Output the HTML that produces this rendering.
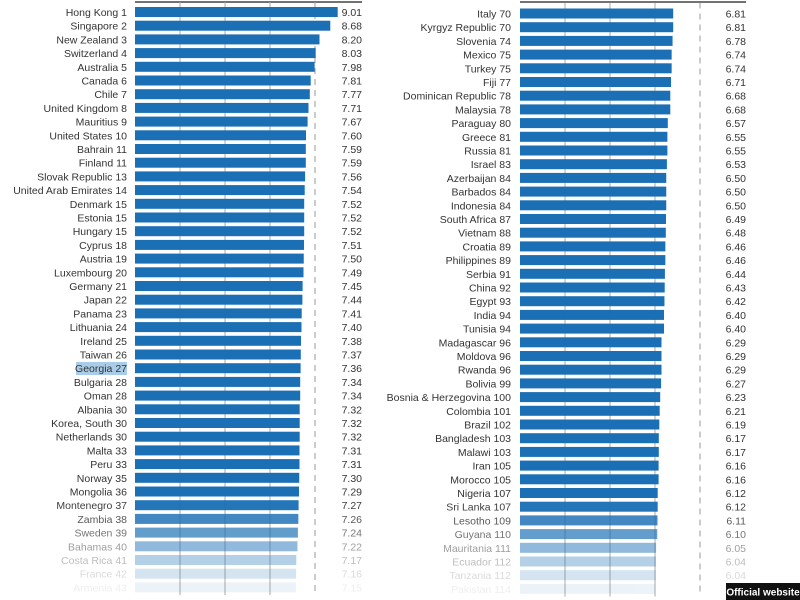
<!DOCTYPE html><html><head><style>body{margin:0;background:#fff}svg{display:block}text{font-family:"Liberation Sans",sans-serif;font-size:10.5px;fill:#333}.l{text-anchor:end}.v{text-anchor:end}rect.b{fill:#1a6fb5}</style></head><body>
<svg width="800" height="600" viewBox="0 0 800 600">
<g transform="translate(135,0)">
<line x1="0" y1="2" x2="227" y2="2" stroke="#444" stroke-width="1.5"/>
<line x1="45" y1="2" x2="45" y2="595" stroke="#aaa"/><line x1="90" y1="2" x2="90" y2="595" stroke="#aaa"/><line x1="135" y1="2" x2="135" y2="595" stroke="#aaa"/><line x1="180" y1="2" x2="180" y2="595" stroke="#999" stroke-dasharray="6,5"/>
<rect x="-59" y="362" width="51" height="13" fill="#a9cde8"/>
<g transform="translate(0,12)"><text class="l" x="-8" y="4">Hong Kong  1</text><rect class="b" y="-5" width="202.7" height="10"/><text class="v" x="227" y="4">9.01</text></g>
<g transform="translate(0,25.7)"><text class="l" x="-8" y="4">Singapore  2</text><rect class="b" y="-5" width="195.3" height="10"/><text class="v" x="227" y="4">8.68</text></g>
<g transform="translate(0,39.4)"><text class="l" x="-8" y="4">New Zealand  3</text><rect class="b" y="-5" width="184.5" height="10"/><text class="v" x="227" y="4">8.20</text></g>
<g transform="translate(0,53.1)"><text class="l" x="-8" y="4">Switzerland  4</text><rect class="b" y="-5" width="180.7" height="10"/><text class="v" x="227" y="4">8.03</text></g>
<g transform="translate(0,66.8)"><text class="l" x="-8" y="4">Australia  5</text><rect class="b" y="-5" width="179.6" height="10"/><text class="v" x="227" y="4">7.98</text></g>
<g transform="translate(0,80.5)"><text class="l" x="-8" y="4">Canada  6</text><rect class="b" y="-5" width="175.7" height="10"/><text class="v" x="227" y="4">7.81</text></g>
<g transform="translate(0,94.2)"><text class="l" x="-8" y="4">Chile  7</text><rect class="b" y="-5" width="174.8" height="10"/><text class="v" x="227" y="4">7.77</text></g>
<g transform="translate(0,107.9)"><text class="l" x="-8" y="4">United Kingdom  8</text><rect class="b" y="-5" width="173.5" height="10"/><text class="v" x="227" y="4">7.71</text></g>
<g transform="translate(0,121.6)"><text class="l" x="-8" y="4">Mauritius  9</text><rect class="b" y="-5" width="172.6" height="10"/><text class="v" x="227" y="4">7.67</text></g>
<g transform="translate(0,135.3)"><text class="l" x="-8" y="4">United States  10</text><rect class="b" y="-5" width="171" height="10"/><text class="v" x="227" y="4">7.60</text></g>
<g transform="translate(0,149)"><text class="l" x="-8" y="4">Bahrain  11</text><rect class="b" y="-5" width="170.8" height="10"/><text class="v" x="227" y="4">7.59</text></g>
<g transform="translate(0,162.7)"><text class="l" x="-8" y="4">Finland  11</text><rect class="b" y="-5" width="170.8" height="10"/><text class="v" x="227" y="4">7.59</text></g>
<g transform="translate(0,176.4)"><text class="l" x="-8" y="4">Slovak Republic  13</text><rect class="b" y="-5" width="170.1" height="10"/><text class="v" x="227" y="4">7.56</text></g>
<g transform="translate(0,190.1)"><text class="l" x="-8" y="4">United Arab Emirates  14</text><rect class="b" y="-5" width="169.7" height="10"/><text class="v" x="227" y="4">7.54</text></g>
<g transform="translate(0,203.8)"><text class="l" x="-8" y="4">Denmark  15</text><rect class="b" y="-5" width="169.2" height="10"/><text class="v" x="227" y="4">7.52</text></g>
<g transform="translate(0,217.5)"><text class="l" x="-8" y="4">Estonia  15</text><rect class="b" y="-5" width="169.2" height="10"/><text class="v" x="227" y="4">7.52</text></g>
<g transform="translate(0,231.2)"><text class="l" x="-8" y="4">Hungary  15</text><rect class="b" y="-5" width="169.2" height="10"/><text class="v" x="227" y="4">7.52</text></g>
<g transform="translate(0,244.9)"><text class="l" x="-8" y="4">Cyprus  18</text><rect class="b" y="-5" width="169" height="10"/><text class="v" x="227" y="4">7.51</text></g>
<g transform="translate(0,258.6)"><text class="l" x="-8" y="4">Austria  19</text><rect class="b" y="-5" width="168.75" height="10"/><text class="v" x="227" y="4">7.50</text></g>
<g transform="translate(0,272.3)"><text class="l" x="-8" y="4">Luxembourg  20</text><rect class="b" y="-5" width="168.5" height="10"/><text class="v" x="227" y="4">7.49</text></g>
<g transform="translate(0,286)"><text class="l" x="-8" y="4">Germany  21</text><rect class="b" y="-5" width="167.6" height="10"/><text class="v" x="227" y="4">7.45</text></g>
<g transform="translate(0,299.7)"><text class="l" x="-8" y="4">Japan  22</text><rect class="b" y="-5" width="167.4" height="10"/><text class="v" x="227" y="4">7.44</text></g>
<g transform="translate(0,313.4)"><text class="l" x="-8" y="4">Panama  23</text><rect class="b" y="-5" width="166.7" height="10"/><text class="v" x="227" y="4">7.41</text></g>
<g transform="translate(0,327.1)"><text class="l" x="-8" y="4">Lithuania  24</text><rect class="b" y="-5" width="166.5" height="10"/><text class="v" x="227" y="4">7.40</text></g>
<g transform="translate(0,340.8)"><text class="l" x="-8" y="4">Ireland  25</text><rect class="b" y="-5" width="166" height="10"/><text class="v" x="227" y="4">7.38</text></g>
<g transform="translate(0,354.5)"><text class="l" x="-8" y="4">Taiwan  26</text><rect class="b" y="-5" width="165.8" height="10"/><text class="v" x="227" y="4">7.37</text></g>
<g transform="translate(0,368.2)"><text class="l" x="-8" y="4">Georgia  27</text><rect class="b" y="-5" width="165.6" height="10"/><text class="v" x="227" y="4">7.36</text></g>
<g transform="translate(0,381.9)"><text class="l" x="-8" y="4">Bulgaria  28</text><rect class="b" y="-5" width="165.2" height="10"/><text class="v" x="227" y="4">7.34</text></g>
<g transform="translate(0,395.6)"><text class="l" x="-8" y="4">Oman  28</text><rect class="b" y="-5" width="165.2" height="10"/><text class="v" x="227" y="4">7.34</text></g>
<g transform="translate(0,409.3)"><text class="l" x="-8" y="4">Albania  30</text><rect class="b" y="-5" width="164.7" height="10"/><text class="v" x="227" y="4">7.32</text></g>
<g transform="translate(0,423)"><text class="l" x="-8" y="4">Korea, South  30</text><rect class="b" y="-5" width="164.7" height="10"/><text class="v" x="227" y="4">7.32</text></g>
<g transform="translate(0,436.7)"><text class="l" x="-8" y="4">Netherlands  30</text><rect class="b" y="-5" width="164.7" height="10"/><text class="v" x="227" y="4">7.32</text></g>
<g transform="translate(0,450.4)"><text class="l" x="-8" y="4">Malta  33</text><rect class="b" y="-5" width="164.5" height="10"/><text class="v" x="227" y="4">7.31</text></g>
<g transform="translate(0,464.1)"><text class="l" x="-8" y="4">Peru  33</text><rect class="b" y="-5" width="164.5" height="10"/><text class="v" x="227" y="4">7.31</text></g>
<g transform="translate(0,477.8)"><text class="l" x="-8" y="4">Norway  35</text><rect class="b" y="-5" width="164.25" height="10"/><text class="v" x="227" y="4">7.30</text></g>
<g transform="translate(0,491.5)"><text class="l" x="-8" y="4">Mongolia  36</text><rect class="b" y="-5" width="164" height="10"/><text class="v" x="227" y="4">7.29</text></g>
<g transform="translate(0,505.2)" opacity="0.95"><text class="l" x="-8" y="4">Montenegro  37</text><rect class="b" y="-5" width="163.6" height="10"/><text class="v" x="227" y="4">7.27</text></g>
<g transform="translate(0,518.9)" opacity="0.82"><text class="l" x="-8" y="4">Zambia  38</text><rect class="b" y="-5" width="163.35" height="10"/><text class="v" x="227" y="4">7.26</text></g>
<g transform="translate(0,532.6)" opacity="0.68"><text class="l" x="-8" y="4">Sweden  39</text><rect class="b" y="-5" width="162.9" height="10"/><text class="v" x="227" y="4">7.24</text></g>
<g transform="translate(0,546.3)" opacity="0.48"><text class="l" x="-8" y="4">Bahamas  40</text><rect class="b" y="-5" width="162.45" height="10"/><text class="v" x="227" y="4">7.22</text></g>
<g transform="translate(0,560)" opacity="0.32"><text class="l" x="-8" y="4">Costa Rica  41</text><rect class="b" y="-5" width="161.3" height="10"/><text class="v" x="227" y="4">7.17</text></g>
<g transform="translate(0,573.7)" opacity="0.18"><text class="l" x="-8" y="4">France  42</text><rect class="b" y="-5" width="161.1" height="10"/><text class="v" x="227" y="4">7.16</text></g>
<g transform="translate(0,587.4)" opacity="0.08"><text class="l" x="-8" y="4">Armenia  43</text><rect class="b" y="-5" width="160.9" height="10"/><text class="v" x="227" y="4">7.15</text></g>
</g>
<g transform="translate(520,1.5)">
<line x1="0" y1="0.5" x2="226" y2="0.5" stroke="#444" stroke-width="1.5"/>
<line x1="45" y1="1" x2="45" y2="595" stroke="#aaa"/><line x1="90" y1="1" x2="90" y2="595" stroke="#aaa"/><line x1="135" y1="1" x2="135" y2="595" stroke="#aaa"/><line x1="180" y1="1" x2="180" y2="595" stroke="#999" stroke-dasharray="6,5"/>
<g transform="translate(0,12)"><text class="l" x="-9" y="4">Italy  70</text><rect class="b" y="-5" width="153.2" height="10"/><text class="v" x="226" y="4">6.81</text></g>
<g transform="translate(0,25.7)"><text class="l" x="-9" y="4">Kyrgyz Republic  70</text><rect class="b" y="-5" width="153.2" height="10"/><text class="v" x="226" y="4">6.81</text></g>
<g transform="translate(0,39.4)"><text class="l" x="-9" y="4">Slovenia  74</text><rect class="b" y="-5" width="152.55" height="10"/><text class="v" x="226" y="4">6.78</text></g>
<g transform="translate(0,53.1)"><text class="l" x="-9" y="4">Mexico  75</text><rect class="b" y="-5" width="151.65" height="10"/><text class="v" x="226" y="4">6.74</text></g>
<g transform="translate(0,66.8)"><text class="l" x="-9" y="4">Turkey  75</text><rect class="b" y="-5" width="151.65" height="10"/><text class="v" x="226" y="4">6.74</text></g>
<g transform="translate(0,80.5)"><text class="l" x="-9" y="4">Fiji  77</text><rect class="b" y="-5" width="151" height="10"/><text class="v" x="226" y="4">6.71</text></g>
<g transform="translate(0,94.2)"><text class="l" x="-9" y="4">Dominican Republic  78</text><rect class="b" y="-5" width="150.3" height="10"/><text class="v" x="226" y="4">6.68</text></g>
<g transform="translate(0,107.9)"><text class="l" x="-9" y="4">Malaysia  78</text><rect class="b" y="-5" width="150.3" height="10"/><text class="v" x="226" y="4">6.68</text></g>
<g transform="translate(0,121.6)"><text class="l" x="-9" y="4">Paraguay  80</text><rect class="b" y="-5" width="147.8" height="10"/><text class="v" x="226" y="4">6.57</text></g>
<g transform="translate(0,135.3)"><text class="l" x="-9" y="4">Greece  81</text><rect class="b" y="-5" width="147.4" height="10"/><text class="v" x="226" y="4">6.55</text></g>
<g transform="translate(0,149)"><text class="l" x="-9" y="4">Russia  81</text><rect class="b" y="-5" width="147.4" height="10"/><text class="v" x="226" y="4">6.55</text></g>
<g transform="translate(0,162.7)"><text class="l" x="-9" y="4">Israel  83</text><rect class="b" y="-5" width="146.9" height="10"/><text class="v" x="226" y="4">6.53</text></g>
<g transform="translate(0,176.4)"><text class="l" x="-9" y="4">Azerbaijan  84</text><rect class="b" y="-5" width="146.25" height="10"/><text class="v" x="226" y="4">6.50</text></g>
<g transform="translate(0,190.1)"><text class="l" x="-9" y="4">Barbados  84</text><rect class="b" y="-5" width="146.25" height="10"/><text class="v" x="226" y="4">6.50</text></g>
<g transform="translate(0,203.8)"><text class="l" x="-9" y="4">Indonesia  84</text><rect class="b" y="-5" width="146.25" height="10"/><text class="v" x="226" y="4">6.50</text></g>
<g transform="translate(0,217.5)"><text class="l" x="-9" y="4">South Africa  87</text><rect class="b" y="-5" width="146" height="10"/><text class="v" x="226" y="4">6.49</text></g>
<g transform="translate(0,231.2)"><text class="l" x="-9" y="4">Vietnam  88</text><rect class="b" y="-5" width="145.8" height="10"/><text class="v" x="226" y="4">6.48</text></g>
<g transform="translate(0,244.9)"><text class="l" x="-9" y="4">Croatia  89</text><rect class="b" y="-5" width="145.35" height="10"/><text class="v" x="226" y="4">6.46</text></g>
<g transform="translate(0,258.6)"><text class="l" x="-9" y="4">Philippines  89</text><rect class="b" y="-5" width="145.35" height="10"/><text class="v" x="226" y="4">6.46</text></g>
<g transform="translate(0,272.3)"><text class="l" x="-9" y="4">Serbia  91</text><rect class="b" y="-5" width="144.9" height="10"/><text class="v" x="226" y="4">6.44</text></g>
<g transform="translate(0,286)"><text class="l" x="-9" y="4">China  92</text><rect class="b" y="-5" width="144.7" height="10"/><text class="v" x="226" y="4">6.43</text></g>
<g transform="translate(0,299.7)"><text class="l" x="-9" y="4">Egypt  93</text><rect class="b" y="-5" width="144.45" height="10"/><text class="v" x="226" y="4">6.42</text></g>
<g transform="translate(0,313.4)"><text class="l" x="-9" y="4">India  94</text><rect class="b" y="-5" width="144" height="10"/><text class="v" x="226" y="4">6.40</text></g>
<g transform="translate(0,327.1)"><text class="l" x="-9" y="4">Tunisia  94</text><rect class="b" y="-5" width="144" height="10"/><text class="v" x="226" y="4">6.40</text></g>
<g transform="translate(0,340.8)"><text class="l" x="-9" y="4">Madagascar  96</text><rect class="b" y="-5" width="141.5" height="10"/><text class="v" x="226" y="4">6.29</text></g>
<g transform="translate(0,354.5)"><text class="l" x="-9" y="4">Moldova  96</text><rect class="b" y="-5" width="141.5" height="10"/><text class="v" x="226" y="4">6.29</text></g>
<g transform="translate(0,368.2)"><text class="l" x="-9" y="4">Rwanda  96</text><rect class="b" y="-5" width="141.5" height="10"/><text class="v" x="226" y="4">6.29</text></g>
<g transform="translate(0,381.9)"><text class="l" x="-9" y="4">Bolivia  99</text><rect class="b" y="-5" width="141.1" height="10"/><text class="v" x="226" y="4">6.27</text></g>
<g transform="translate(0,395.6)"><text class="l" x="-9" y="4">Bosnia &amp; Herzegovina  100</text><rect class="b" y="-5" width="140.2" height="10"/><text class="v" x="226" y="4">6.23</text></g>
<g transform="translate(0,409.3)"><text class="l" x="-9" y="4">Colombia  101</text><rect class="b" y="-5" width="139.7" height="10"/><text class="v" x="226" y="4">6.21</text></g>
<g transform="translate(0,423)"><text class="l" x="-9" y="4">Brazil  102</text><rect class="b" y="-5" width="139.3" height="10"/><text class="v" x="226" y="4">6.19</text></g>
<g transform="translate(0,436.7)"><text class="l" x="-9" y="4">Bangladesh  103</text><rect class="b" y="-5" width="138.8" height="10"/><text class="v" x="226" y="4">6.17</text></g>
<g transform="translate(0,450.4)"><text class="l" x="-9" y="4">Malawi  103</text><rect class="b" y="-5" width="138.8" height="10"/><text class="v" x="226" y="4">6.17</text></g>
<g transform="translate(0,464.1)"><text class="l" x="-9" y="4">Iran  105</text><rect class="b" y="-5" width="138.6" height="10"/><text class="v" x="226" y="4">6.16</text></g>
<g transform="translate(0,477.8)"><text class="l" x="-9" y="4">Morocco  105</text><rect class="b" y="-5" width="138.6" height="10"/><text class="v" x="226" y="4">6.16</text></g>
<g transform="translate(0,491.5)"><text class="l" x="-9" y="4">Nigeria  107</text><rect class="b" y="-5" width="137.7" height="10"/><text class="v" x="226" y="4">6.12</text></g>
<g transform="translate(0,505.2)" opacity="0.95"><text class="l" x="-9" y="4">Sri Lanka  107</text><rect class="b" y="-5" width="137.7" height="10"/><text class="v" x="226" y="4">6.12</text></g>
<g transform="translate(0,518.9)" opacity="0.82"><text class="l" x="-9" y="4">Lesotho  109</text><rect class="b" y="-5" width="137.5" height="10"/><text class="v" x="226" y="4">6.11</text></g>
<g transform="translate(0,532.6)" opacity="0.68"><text class="l" x="-9" y="4">Guyana  110</text><rect class="b" y="-5" width="137.25" height="10"/><text class="v" x="226" y="4">6.10</text></g>
<g transform="translate(0,546.3)" opacity="0.48"><text class="l" x="-9" y="4">Mauritania  111</text><rect class="b" y="-5" width="136.1" height="10"/><text class="v" x="226" y="4">6.05</text></g>
<g transform="translate(0,560)" opacity="0.32"><text class="l" x="-9" y="4">Ecuador  112</text><rect class="b" y="-5" width="135.9" height="10"/><text class="v" x="226" y="4">6.04</text></g>
<g transform="translate(0,573.7)" opacity="0.18"><text class="l" x="-9" y="4">Tanzania  112</text><rect class="b" y="-5" width="135.9" height="10"/><text class="v" x="226" y="4">6.04</text></g>
<g transform="translate(0,587.4)" opacity="0.08"><text class="l" x="-9" y="4">Pakistan  114</text><rect class="b" y="-5" width="135.5" height="10"/></g>
</g>
<rect x="726" y="583" width="74" height="17" fill="#111"/>
<text x="763" y="595.5" text-anchor="middle" style="fill:#fff;font-weight:bold;font-size:10px">Official website</text>
</svg></body></html>
